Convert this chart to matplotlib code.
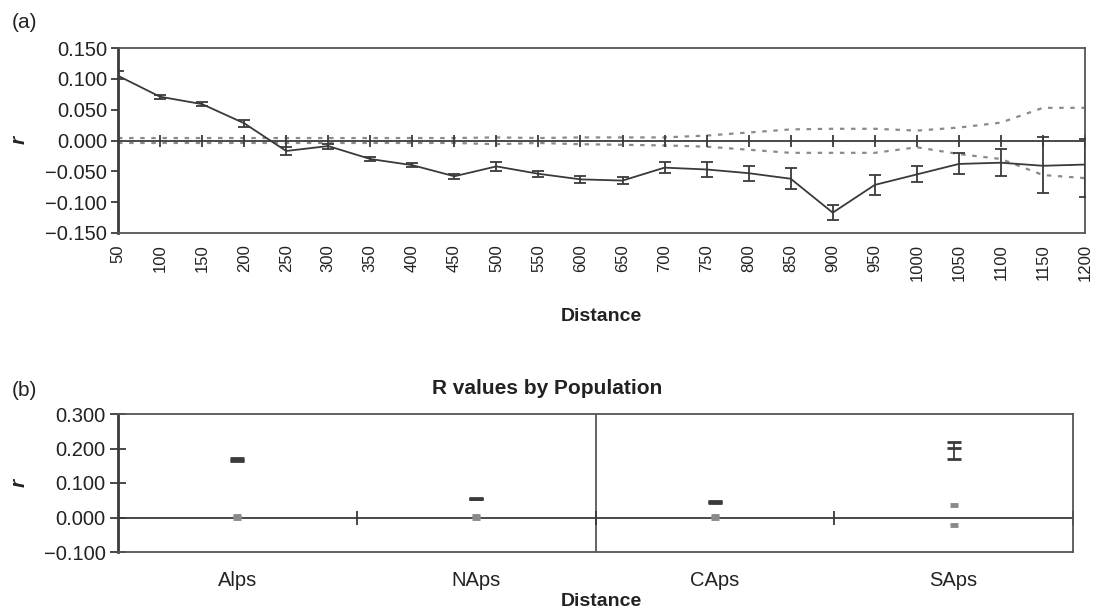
import matplotlib
matplotlib.use("Agg")
import matplotlib.pyplot as plt
import numpy as np

plt.rcParams['font.family'] = ['Liberation Sans', 'DejaVu Sans']

# ---------------- data: panel (a) ----------------
distance = [50, 100, 150, 200, 250, 300, 350, 400, 450, 500, 550, 600,
            650, 700, 750, 800, 850, 900, 950, 1000, 1050, 1100, 1150, 1200]
r_mean = [0.105, 0.071, 0.059, 0.028, -0.017, -0.009, -0.030, -0.040,
          -0.058, -0.042, -0.054, -0.063, -0.065, -0.044, -0.047, -0.053,
          -0.062, -0.117, -0.072, -0.055, -0.038, -0.036, -0.041, -0.039]
r_err_lo = [0.006, 0.003, 0.003, 0.006, 0.006, 0.004, 0.003, 0.003,
            0.004, 0.007, 0.005, 0.006, 0.006, 0.009, 0.012, 0.012,
            0.017, 0.012, 0.016, 0.013, 0.017, 0.022, 0.044, 0.052]
r_err_hi = [0.007, 0.003, 0.003, 0.006, 0.006, 0.004, 0.003, 0.003,
            0.004, 0.007, 0.005, 0.006, 0.006, 0.009, 0.012, 0.012,
            0.017, 0.012, 0.016, 0.013, 0.017, 0.022, 0.046, 0.041]
ci_upper = [0.004, 0.004, 0.004, 0.004, 0.004, 0.004, 0.004, 0.004, 0.004,
            0.005, 0.004, 0.005, 0.005, 0.005, 0.008, 0.013, 0.018, 0.019,
            0.019, 0.016, 0.021, 0.029, 0.053, 0.053]
ci_lower = [-0.004, -0.004, -0.004, -0.004, -0.004, -0.004, -0.004, -0.004,
            -0.004, -0.006, -0.004, -0.006, -0.007, -0.008, -0.010, -0.015,
            -0.020, -0.020, -0.020, -0.011, -0.022, -0.030, -0.056, -0.061]

# ---------------- data: panel (b) ----------------
populations = ['Alps', 'NAps', 'CAps', 'SAps']
pop_mean = [0.168, 0.055, 0.045, 0.202]
pop_err_lo = [0.004, 0.002, 0.003, 0.031]
pop_err_hi = [0.004, 0.002, 0.003, 0.016]
pop_ci_upper = [0.005, 0.004, 0.004, 0.036]
pop_ci_lower = [-0.002, -0.002, -0.002, -0.023]

yticks_a = [-0.150, -0.100, -0.050, 0.000, 0.050, 0.100, 0.150]
yticks_b = [-0.100, 0.000, 0.100, 0.200, 0.300]

# ---------------- figure ----------------
W, H = 1096, 612
fig = plt.figure(figsize=(W / 100, H / 100), dpi=100)

def fx(px):
    return px / W

def fy(py):
    return 1 - py / H

dark = '#3a3a3a'
grey = '#8a8a8a'
TICKFS = 14.5

# ---- panel (a) ----
ax = fig.add_axes([fx(118), fy(233), fx(1085 - 118), (233 - 48) / H])
xi = np.arange(len(distance))
ax.axhline(0, color=dark, lw=1.3, zorder=2)
ax.plot(xi, np.zeros(len(xi)), linestyle='none', marker='|', ms=8,
        mew=1.3, color=dark, zorder=2)
ax.plot(xi, ci_upper, color=grey, lw=1.6, linestyle=(0, (2, 3)), zorder=1)
ax.plot(xi, ci_lower, color=grey, lw=1.6, linestyle=(0, (2, 3)), zorder=1)
ax.errorbar(xi, r_mean, yerr=[r_err_lo, r_err_hi], color=dark, lw=1.3,
            elinewidth=1.3, capsize=4.3, capthick=1.3, zorder=3)
ax.set_xlim(0, len(distance) - 1)
ax.set_ylim(-0.150, 0.150)
ax.set_yticks(yticks_a)
ax.set_yticklabels([f"{v:.3f}".replace('-', '\u2212') for v in yticks_a],
                   fontsize=TICKFS)
ax.set_xticks(xi)
ax.set_xticklabels([str(d) for d in distance], rotation=90, fontsize=12)
ax.tick_params(axis='x', length=0, pad=8)
ax.tick_params(axis='y', direction='out', length=5, width=1.3, color=dark,
               pad=3)
for s in ['top', 'right', 'bottom']:
    ax.spines[s].set_color('#555555')
    ax.spines[s].set_linewidth(1.3)
ax.spines['left'].set_color(dark)
ax.spines['left'].set_linewidth(2)
for lab in ax.get_yticklabels() + ax.get_xticklabels():
    lab.set_color('#222222')

fig.text(fx(12), fy(22), '(a)', fontsize=15, ha='left', va='center',
         color='#222222')
fig.text(fx(19), fy(140), 'r', fontsize=15, fontweight='bold',
         fontstyle='italic', rotation=90, ha='center', va='center',
         color='#222222')
fig.text(fx(601), fy(316), 'Distance', fontsize=14, fontweight='bold',
         ha='center', va='center', color='#222222')

# ---- panel (b) ----
bx = fig.add_axes([fx(118), fy(552), fx(1073 - 118), (552 - 414) / H])
pi = np.arange(len(populations))
bx.axhline(0, color=dark, lw=1.3, zorder=2)
bounds = np.arange(len(populations) + 1) - 0.5
bx.plot(bounds, np.zeros(len(bounds)), linestyle='none', marker='|',
        ms=10, mew=1.3, color=dark, zorder=2)
bx.axvline(1.5, color=dark, lw=1.1, zorder=2)
bx.plot(pi, pop_ci_upper, linestyle='none', marker='_', ms=6, mew=3.5,
        color=grey, zorder=3)
bx.plot(pi, pop_ci_lower, linestyle='none', marker='_', ms=6, mew=3.5,
        color=grey, zorder=3)
bx.errorbar(pi, pop_mean, yerr=[pop_err_lo, pop_err_hi], linestyle='none',
            marker='_', ms=10, mew=2.0, color=dark, ecolor=dark,
            elinewidth=1.3, capsize=5, capthick=1.5, zorder=4)
bx.set_xlim(-0.5, len(populations) - 0.5)
bx.set_ylim(-0.100, 0.300)
bx.set_yticks(yticks_b)
bx.set_yticklabels([f"{v:.3f}".replace('-', '\u2212') for v in yticks_b],
                   fontsize=TICKFS)
bx.set_xticks(pi)
bx.set_xticklabels(populations, fontsize=TICKFS)
bx.tick_params(axis='x', length=0, pad=14)
bx.tick_params(axis='y', direction='inout', length=12, width=1.3,
               color=dark, pad=3)
for s in ['top', 'right', 'bottom']:
    bx.spines[s].set_color('#555555')
    bx.spines[s].set_linewidth(1.3)
bx.spines['left'].set_color(dark)
bx.spines['left'].set_linewidth(2)
for lab in bx.get_yticklabels() + bx.get_xticklabels():
    lab.set_color('#222222')

fig.text(fx(12), fy(391), '(b)', fontsize=15, ha='left', va='center',
         color='#222222')
fig.text(fx(547), fy(388), 'R values by Population', fontsize=15,
         fontweight='bold', ha='center', va='center', color='#222222')
fig.text(fx(19), fy(483), 'r', fontsize=15, fontweight='bold',
         fontstyle='italic', rotation=90, ha='center', va='center',
         color='#222222')
fig.text(fx(601), fy(601), 'Distance', fontsize=14, fontweight='bold',
         ha='center', va='center', color='#222222')

fig.savefig('out.png', dpi=100)
